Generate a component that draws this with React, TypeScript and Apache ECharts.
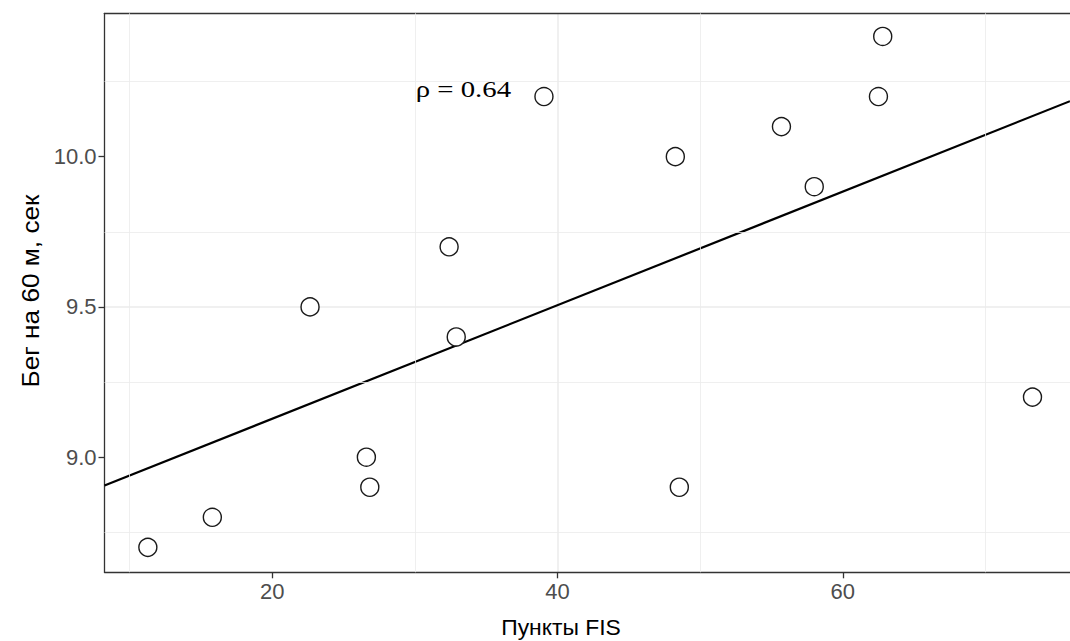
import React, { useEffect, useRef } from "react";
import * as echarts from "echarts";

// FIS points vs 60 m sprint time
const fisPoints = [11.28, 15.8, 22.65, 26.6, 26.84, 32.4, 32.9, 39.05, 48.26, 48.54, 55.7, 58.0, 62.5, 62.8, 73.3];
const sprint60 = [8.7, 8.8, 9.5, 9.0, 8.9, 9.7, 9.4, 10.2, 10.0, 8.9, 10.1, 9.9, 10.2, 10.4, 9.2];

const xTicks = [20, 40, 60];
const yTicks = [9.0, 9.5, 10.0];
const xMinorGrid = [10, 30, 50, 70];
const yMinorGrid = [8.75, 9.25, 9.75, 10.25];

const xRange = [8.24, 75.93];
const yRange = [8.617, 10.477];

const rhoText = "ρ = 0.64";
const rhoPos = [33.4, 10.225];

const xTitle = "Пункты FIS";
const yTitle = "Бег на 60 м, сек";

function ols(xs: number[], ys: number[]) {
  const n = xs.length;
  const mx = xs.reduce((a, b) => a + b, 0) / n;
  const my = ys.reduce((a, b) => a + b, 0) / n;
  let sxy = 0, sxx = 0;
  for (let i = 0; i < n; i++) {
    sxy += (xs[i] - mx) * (ys[i] - my);
    sxx += (xs[i] - mx) * (xs[i] - mx);
  }
  const b = sxy / sxx;
  return { a: my - b * mx, b };
}

export default function App() {
  const ref = useRef<HTMLDivElement>(null);
  useEffect(() => {
    if (!ref.current) return;
    const chart = echarts.init(ref.current, undefined, { renderer: "svg" });
    const { a, b } = ols(fisPoints, sprint60);
    const fitLine = [
      [xRange[0], a + b * xRange[0]],
      [xRange[1], a + b * xRange[1]],
    ];
    const gridColor = "#ebebeb";
    const borderColor = "#333333";
    const sans = "'Liberation Sans', Arial, sans-serif";
    chart.setOption({
      animation: false,
      backgroundColor: "#ffffff",
      grid: {
        left: 104.5,
        right: -5,
        top: 13.3,
        bottom: 641 - 572.3,
        show: false,
      },
      xAxis: [
        {
          type: "value",
          min: xRange[0],
          max: xRange[1],
          minInterval: 20,
          maxInterval: 20,
          axisLine: { show: true, onZero: false, lineStyle: { color: borderColor, width: 1.3 } },
          axisTick: { show: true, length: 6, lineStyle: { color: borderColor, width: 1.3 }, customValues: xTicks },
          axisLabel: {
            customValues: xTicks,
            color: "#4d4d4d",
            fontSize: 22,
            fontFamily: sans,
            margin: 8,
            formatter: (v: number) => String(v),
          },
          splitLine: { show: true, showMinLine: false, showMaxLine: false, lineStyle: { color: gridColor, width: 1.5 } },
        },
        {
          type: "value",
          position: "top",
          min: xRange[0],
          max: xRange[1],
          axisLine: { show: true, onZero: false, lineStyle: { color: borderColor, width: 1.3 } },
          axisTick: { show: false },
          axisLabel: { show: false },
          splitLine: { show: false },
        },
      ],
      yAxis: {
        type: "value",
        min: yRange[0],
        max: yRange[1],
        minInterval: 0.5,
        maxInterval: 0.5,
        axisLine: { show: true, onZero: false, lineStyle: { color: borderColor, width: 1.3 } },
        axisTick: { show: true, length: 6, lineStyle: { color: borderColor, width: 1.3 }, customValues: yTicks },
        axisLabel: {
          customValues: yTicks,
          color: "#4d4d4d",
          fontSize: 22,
          fontFamily: sans,
          margin: 8,
          formatter: (v: number) => v.toFixed(1),
        },
        splitLine: { show: true, showMinLine: false, showMaxLine: false, lineStyle: { color: gridColor, width: 1.5 } },
      },
      series: [
        {
          type: "line",
          data: [],
          silent: true,
          z: 0,
          markLine: {
            silent: true,
            symbol: "none",
            label: { show: false },
            lineStyle: { color: gridColor, width: 0.8, type: "solid" },
            data: [
              ...xMinorGrid.map((v) => ({ xAxis: v })),
              ...yMinorGrid.map((v) => ({ yAxis: v })),
            ],
          },
        },
        {
          type: "line",
          data: fitLine,
          showSymbol: false,
          symbol: "none",
          lineStyle: { color: "#000000", width: 2.2 },
          silent: true,
          z: 3,
        },
        {
          type: "scatter",
          data: fisPoints.map((x, i) => [x, sprint60[i]]),
          symbol: "circle",
          symbolSize: 18,
          itemStyle: { color: "#ffffff", borderColor: "#1a1a1a", borderWidth: 1.4, opacity: 1 },
          z: 4,
        },
      ],
    });
    const rhoPx = chart.convertToPixel({ gridIndex: 0 }, rhoPos) as number[];
    chart.setOption({
      graphic: [
        {
          type: "text",
          x: 561,
          y: 628,
          scaleX: 1.04,
          style: {
            text: xTitle,
            fontSize: 22,
            fontFamily: sans,
            fill: "#000000",
            align: "center",
            verticalAlign: "middle",
          },
        },
        {
          type: "text",
          x: 31,
          y: 291,
          rotation: Math.PI / 2,
          scaleX: 1.14,
          style: {
            text: yTitle,
            fontSize: 23,
            fontFamily: sans,
            fill: "#000000",
            align: "center",
            verticalAlign: "middle",
          },
        },
        {
          type: "text",
          x: rhoPx[0],
          y: rhoPx[1],
          scaleX: 1.2,
          z: 10,
          style: {
            text: rhoText,
            fontSize: 24,
            fontFamily: "'Liberation Serif', 'Times New Roman', serif",
            fill: "#000000",
            align: "center",
            verticalAlign: "middle",
          },
        },
      ],
    });
    return () => chart.dispose();
  }, []);
  return (
    <div
      ref={ref}
      style={{ position: "fixed", left: 0, top: 0, width: 1070, height: 641, background: "#fff" }}
    />
  );
}
